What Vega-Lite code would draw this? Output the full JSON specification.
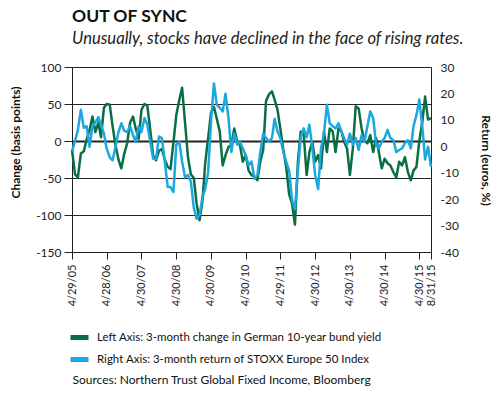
{
  "$schema": "https://vega.github.io/schema/vega-lite/v6.json",
  "autosize": "none",
  "padding": {"left": 72, "top": 67, "right": 69, "bottom": 141},
  "width": 359,
  "height": 185,
  "background": "white",
  "config": {
    "font": "Lato",
    "view": {"stroke": null},
    "axis": {"labelColor": "#222", "titleColor": "#111", "domainColor": "#222", "tickColor": "#222"}
  },
  "title": {
    "text": "OUT OF SYNC",
    "subtitle": "Unusually, stocks have declined in the face of rising rates.",
    "anchor": "start",
    "frame": "group",
    "fontSize": 17.5,
    "fontWeight": "bold",
    "color": "#111",
    "subtitleFontSize": 16.6,
    "subtitleFontStyle": "italic",
    "subtitleColor": "#222",
    "subtitlePadding": 6,
    "offset": 13
  },
  "data": {
    "values": [
      {"d": "2005-04-29", "g": -12, "b": -1.9},
      {"d": "2005-05-31", "g": -45, "b": 2.0},
      {"d": "2005-06-30", "g": -49, "b": 6.2},
      {"d": "2005-07-31", "g": -17, "b": 13.8},
      {"d": "2005-08-31", "g": -14, "b": 7.0},
      {"d": "2005-09-30", "g": 2, "b": 7.6},
      {"d": "2005-10-31", "g": 15, "b": -0.2},
      {"d": "2005-11-30", "g": 33, "b": 7.6},
      {"d": "2005-12-31", "g": 12, "b": 9.0},
      {"d": "2006-01-31", "g": 25, "b": 11.0},
      {"d": "2006-02-28", "g": 5, "b": 8.2},
      {"d": "2006-03-31", "g": 45, "b": 4.8},
      {"d": "2006-04-28", "g": 50, "b": -0.8},
      {"d": "2006-05-31", "g": 49, "b": -4.2},
      {"d": "2006-06-30", "g": 20, "b": -5.3},
      {"d": "2006-07-31", "g": -6, "b": -0.2},
      {"d": "2006-08-31", "g": -25, "b": 5.4},
      {"d": "2006-09-30", "g": -37, "b": 8.7},
      {"d": "2006-10-31", "g": -17, "b": 5.9},
      {"d": "2006-11-30", "g": -3, "b": 5.4},
      {"d": "2006-12-31", "g": 25, "b": 7.6},
      {"d": "2007-01-31", "g": 33, "b": 4.2},
      {"d": "2007-02-28", "g": 17, "b": 1.7},
      {"d": "2007-03-31", "g": 3, "b": 7.6},
      {"d": "2007-04-30", "g": 42, "b": 5.4},
      {"d": "2007-05-31", "g": 50, "b": 10.7},
      {"d": "2007-06-30", "g": 48, "b": 8.2},
      {"d": "2007-07-31", "g": 15, "b": 1.7},
      {"d": "2007-08-31", "g": -20, "b": -4.7},
      {"d": "2007-09-30", "g": -26, "b": -4.7},
      {"d": "2007-10-31", "g": -13, "b": 3.7},
      {"d": "2007-11-30", "g": -11, "b": 3.1},
      {"d": "2007-12-31", "g": -25, "b": -5.8},
      {"d": "2008-01-31", "g": -35, "b": -15.4},
      {"d": "2008-02-29", "g": -38, "b": -15.4},
      {"d": "2008-03-31", "g": -2, "b": -17.3},
      {"d": "2008-04-30", "g": 35, "b": 0.6},
      {"d": "2008-05-31", "g": 55, "b": 1.7},
      {"d": "2008-06-30", "g": 72, "b": -5.8},
      {"d": "2008-07-31", "g": 25, "b": -11.7},
      {"d": "2008-08-31", "g": -22, "b": -10.9},
      {"d": "2008-09-30", "g": -45, "b": -13.4},
      {"d": "2008-10-31", "g": -50, "b": -23.2},
      {"d": "2008-11-30", "g": -85, "b": -27.4},
      {"d": "2008-12-31", "g": -107, "b": -26.0},
      {"d": "2009-01-31", "g": -80, "b": -19.0},
      {"d": "2009-02-28", "g": -30, "b": -16.2},
      {"d": "2009-03-31", "g": 4, "b": -9.8},
      {"d": "2009-04-30", "g": 38, "b": 9.3},
      {"d": "2009-05-31", "g": 46, "b": 23.8},
      {"d": "2009-06-30", "g": 30, "b": 15.7},
      {"d": "2009-07-31", "g": 13, "b": 14.6},
      {"d": "2009-08-31", "g": -33, "b": 13.2},
      {"d": "2009-09-30", "g": -19, "b": 19.9},
      {"d": "2009-10-31", "g": -8, "b": 10.7},
      {"d": "2009-11-30", "g": -5, "b": -2.2},
      {"d": "2009-12-31", "g": 17, "b": 4.8},
      {"d": "2010-01-31", "g": -1, "b": 0.6},
      {"d": "2010-02-28", "g": -5, "b": 1.7},
      {"d": "2010-03-31", "g": -28, "b": -0.8},
      {"d": "2010-04-30", "g": -19, "b": -3.3},
      {"d": "2010-05-31", "g": -40, "b": -7.2},
      {"d": "2010-06-30", "g": -46, "b": -5.8},
      {"d": "2010-07-31", "g": -48, "b": -12.3},
      {"d": "2010-08-31", "g": -53, "b": -10.9},
      {"d": "2010-09-30", "g": -28, "b": -2.2},
      {"d": "2010-10-31", "g": -12, "b": 4.8},
      {"d": "2010-11-30", "g": 54, "b": 3.1},
      {"d": "2010-12-31", "g": 63, "b": 1.7},
      {"d": "2011-01-31", "g": 67, "b": 3.1},
      {"d": "2011-02-28", "g": 56, "b": 10.4},
      {"d": "2011-03-31", "g": 42, "b": 5.6},
      {"d": "2011-04-29", "g": 17, "b": 3.1},
      {"d": "2011-05-31", "g": -12, "b": -2.2},
      {"d": "2011-06-30", "g": -35, "b": -5.8},
      {"d": "2011-07-31", "g": -72, "b": -9.2},
      {"d": "2011-08-31", "g": -85, "b": -20.4},
      {"d": "2011-09-30", "g": -113, "b": -23.8},
      {"d": "2011-10-31", "g": -28, "b": -9.2},
      {"d": "2011-11-30", "g": 13, "b": 3.4},
      {"d": "2011-12-31", "g": 10, "b": 6.8},
      {"d": "2012-01-31", "g": -46, "b": 3.4},
      {"d": "2012-02-29", "g": -15, "b": 8.2},
      {"d": "2012-03-31", "g": -1, "b": -0.8},
      {"d": "2012-04-30", "g": -28, "b": -10.9},
      {"d": "2012-05-31", "g": -19, "b": -16.2},
      {"d": "2012-06-30", "g": -37, "b": -0.8},
      {"d": "2012-07-31", "g": 13, "b": 4.8},
      {"d": "2012-08-31", "g": -15, "b": 15.7},
      {"d": "2012-09-30", "g": 17, "b": 8.7},
      {"d": "2012-10-31", "g": 13, "b": 7.6},
      {"d": "2012-11-30", "g": -15, "b": 6.8},
      {"d": "2012-12-31", "g": 17, "b": 8.7},
      {"d": "2013-01-31", "g": 13, "b": 5.6},
      {"d": "2013-02-28", "g": -1, "b": 3.1},
      {"d": "2013-03-31", "g": -10, "b": 0.6},
      {"d": "2013-04-30", "g": -46, "b": 4.8},
      {"d": "2013-05-31", "g": -10, "b": 0.6},
      {"d": "2013-06-30", "g": 47, "b": 3.1},
      {"d": "2013-07-31", "g": 44, "b": -1.4},
      {"d": "2013-08-31", "g": 17, "b": 4.2},
      {"d": "2013-09-30", "g": 0, "b": 1.7},
      {"d": "2013-10-31", "g": -3, "b": 7.6},
      {"d": "2013-11-30", "g": 8, "b": 13.2},
      {"d": "2013-12-31", "g": -15, "b": 10.7},
      {"d": "2014-01-31", "g": 4, "b": 0.6},
      {"d": "2014-02-28", "g": -15, "b": -0.8},
      {"d": "2014-03-31", "g": -37, "b": 1.7},
      {"d": "2014-04-30", "g": -24, "b": 3.1},
      {"d": "2014-05-31", "g": -30, "b": 6.2},
      {"d": "2014-06-30", "g": -33, "b": 3.1},
      {"d": "2014-07-31", "g": -42, "b": 2.3},
      {"d": "2014-08-31", "g": -49, "b": -2.2},
      {"d": "2014-09-30", "g": -28, "b": -1.4},
      {"d": "2014-10-31", "g": -33, "b": -0.8},
      {"d": "2014-11-30", "g": -22, "b": 1.2},
      {"d": "2014-12-31", "g": -42, "b": 2.3},
      {"d": "2015-01-31", "g": -53, "b": -0.8},
      {"d": "2015-02-28", "g": -40, "b": 7.6},
      {"d": "2015-03-31", "g": -35, "b": 11.8},
      {"d": "2015-04-30", "g": 0, "b": 17.7},
      {"d": "2015-05-31", "g": 25, "b": 7.6},
      {"d": "2015-06-30", "g": 60, "b": -5.0},
      {"d": "2015-07-31", "g": 29, "b": -0.2},
      {"d": "2015-08-31", "g": 31, "b": -7.8}
    ]
  },
  "encoding": {
    "x": {
      "field": "d",
      "type": "temporal",
      "scale": {
        "type": "utc",
        "domain": [
          {"year": 2005, "month": 4, "date": 29, "utc": true},
          {"year": 2015, "month": 8, "date": 31, "utc": true}
        ]
      },
      "axis": {
        "values": [
          {"year": 2005, "month": 4, "date": 29, "utc": true},
          {"year": 2006, "month": 4, "date": 28, "utc": true},
          {"year": 2007, "month": 4, "date": 30, "utc": true},
          {"year": 2008, "month": 4, "date": 30, "utc": true},
          {"year": 2009, "month": 4, "date": 30, "utc": true},
          {"year": 2010, "month": 4, "date": 30, "utc": true},
          {"year": 2011, "month": 4, "date": 29, "utc": true},
          {"year": 2012, "month": 4, "date": 30, "utc": true},
          {"year": 2013, "month": 4, "date": 30, "utc": true},
          {"year": 2014, "month": 4, "date": 30, "utc": true},
          {"year": 2015, "month": 4, "date": 30, "utc": true},
          {"year": 2015, "month": 8, "date": 31, "utc": true}
        ],
        "labelExpr": "utcFormat(datum.value, '%-m/%-d/%y')",
        "labelAngle": 270,
        "labelFontSize": 11,
        "labelPadding": 5,
        "labelOverlap": false,
        "labelFlush": false,
        "labelBound": false,
        "tickSize": 7,
        "grid": false,
        "title": "Sources: Northern Trust Global Fixed Income, Bloomberg",
        "titleX": 0,
        "titleY": 127,
        "titleAlign": "left",
        "titleAnchor": "start",
        "titleBaseline": "middle",
        "titleFontSize": 12,
        "titleFontWeight": "normal"
      }
    }
  },
  "layer": [
    {
      "mark": {"type": "line", "strokeWidth": 2.5, "strokeJoin": "round"},
      "encoding": {
        "y": {
          "field": "g",
          "type": "quantitative",
          "scale": {"domain": [-150, 100], "nice": false, "zero": false},
          "axis": {
            "values": [-150, -100, -50, 0, 50, 100],
            "labelExpr": "'' + datum.value",
            "labelFontSize": 12,
            "labelPadding": 3,
            "tickSize": 8,
            "grid": true,
            "gridColor": "#222",
            "gridOpacity": 1,
            "gridWidth": {"condition": {"test": "datum.value === 0", "value": 2.2}, "value": 1},
            "title": "Change (basis points)",
            "titleFontSize": 12,
            "titleFontWeight": "bold",
            "titleX": -57,
            "titleY": 75,
            "titleBaseline": "middle",
            "titleAlign": "center"
          }
        },
        "color": {
          "datum": "Left Axis: 3-month change in German 10-year bund yield",
          "type": "nominal",
          "scale": {
            "domain": [
              "Left Axis: 3-month change in German 10-year bund yield",
              "Right Axis: 3-month return of STOXX Europe 50 Index"
            ],
            "range": ["#0a6e45", "#1ba7e0"]
          },
          "legend": {
            "orient": "none",
            "legendX": -4,
            "legendY": 259,
            "title": null,
            "symbolType": "stroke",
            "symbolStrokeWidth": 5,
            "symbolSize": 324,
            "labelFontSize": 11.5,
            "labelColor": "#111",
            "labelLimit": 0,
            "labelOffset": 6,
            "rowPadding": -10
          }
        }
      }
    },
    {
      "mark": {"type": "line", "strokeWidth": 2.5, "strokeJoin": "round"},
      "encoding": {
        "y": {
          "field": "b",
          "type": "quantitative",
          "scale": {"domain": [-40, 30], "nice": false, "zero": false},
          "axis": {
            "orient": "right",
            "values": [-40, -30, -20, -10, 0, 10, 20, 30],
            "labelExpr": "'' + datum.value",
            "labelFontSize": 12,
            "labelPadding": 9,
            "ticks": false,
            "grid": false,
            "title": "Return (euros, %)",
            "titleFontSize": 12,
            "titleFontWeight": "bold",
            "titleAngle": 90,
            "titleX": 54,
            "titleY": 93,
            "titleBaseline": "middle",
            "titleAlign": "center"
          }
        },
        "color": {"datum": "Right Axis: 3-month return of STOXX Europe 50 Index", "type": "nominal"}
      }
    }
  ],
  "resolve": {"scale": {"y": "independent"}}
}
